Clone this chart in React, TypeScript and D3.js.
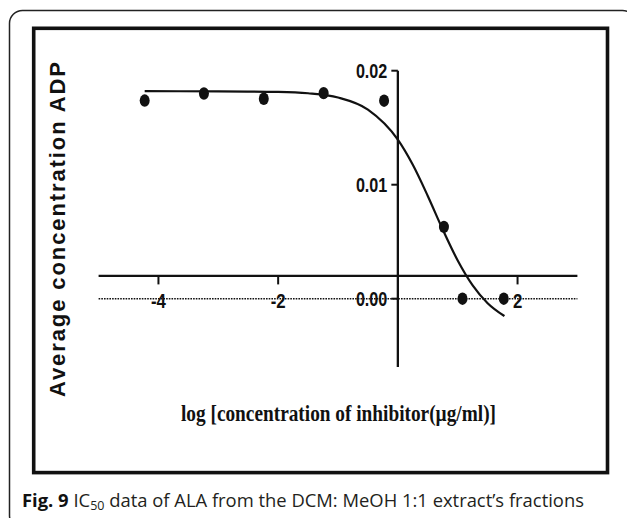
import React from "react";
import * as d3 from "d3";

// Data
const logConc = [-4.23, -3.24, -2.24, -1.24, -0.23, 0.77, 1.08, 1.77];
const adpValues = [0.01738, 0.018, 0.01754, 0.01803, 0.01737, 0.0063, 0.0, 0.0];

// Fitted sigmoid curve
const curveX = [-4.23, -3, -2, -1.5, -1, -0.5, 0, 0.25, 0.5, 0.75, 1.0, 1.25, 1.5, 1.78];
const curveY = [0.0182, 0.01819, 0.01814, 0.01802, 0.01765, 0.01659, 0.01395, 0.011745, 0.009014, 0.006071, 0.003353, 0.00117, -0.000395, -0.001522];

const xTicks = [-4, -2, 2];
const xTickLabels = ["-4", "-2", "2"];
const yTicks = [0.0, 0.01, 0.02];
const yTickLabels = ["0.00", "0.01", "0.02"];

const xDomain = [-5, 3];
const yDomain = [-0.006, 0.02];
const xAxisCrossValue = 0.002;

const yAxisTitle = "Average concentration ADP";
const xAxisTitle = "log [concentration of inhibitor(\u00b5g/ml)]";

export default function App() {
  const W = 627;
  const H = 518;
  const x = d3.scaleLinear().domain(xDomain).range([98.6, 577.4]);
  const y = d3.scaleLinear().domain(yDomain).range([367.1, 70.7]);

  const line = d3
    .line<number>()
    .x((d, i) => x(curveX[i]))
    .y((d) => y(d))
    .curve(d3.curveMonotoneX);

  const ink = "#111";
  const tickFont = "Liberation Sans, Arial, Helvetica, sans-serif";
  const xAxisY = y(xAxisCrossValue);

  return (
    <svg
      width={W}
      height={H}
      viewBox={`0 0 ${W} ${H}`}
      style={{ position: "absolute", left: 0, top: 0, display: "block", background: "#fff" }}
    >
      {/* outer rounded frame */}
      <rect x={9.5} y={10.5} width={626} height={518} rx={13} fill="none" stroke="#222" strokeWidth={1.5} />
      {/* inner thick frame */}
      <rect x={33.7} y={28.3} width={573.8} height={444.3} fill="none" stroke={ink} strokeWidth={3.6} />

      {/* dotted zero line */}
      <line
        x1={x(xDomain[0])}
        x2={x(xDomain[1])}
        y1={y(0)}
        y2={y(0)}
        stroke={ink}
        strokeWidth={1.4}
        strokeDasharray="1.6,1.1"
      />

      {/* x axis */}
      <line x1={x(xDomain[0])} x2={x(xDomain[1])} y1={xAxisY} y2={xAxisY} stroke={ink} strokeWidth={2.3} />
      {xTicks.map((t, i) => (
        <g key={"xt" + i}>
          <line x1={x(t)} x2={x(t)} y1={xAxisY} y2={xAxisY + 8.5} stroke={ink} strokeWidth={2} />
          <g transform={`translate(${x(t)},307.5) scale(0.8,1)`}>
            <text textAnchor="middle" fontFamily={tickFont} fontWeight="bold" fontSize={21} fill={ink}>
              {xTickLabels[i]}
            </text>
          </g>
        </g>
      ))}

      {/* y axis */}
      <line x1={x(0)} x2={x(0)} y1={y(yDomain[1])} y2={y(yDomain[0])} stroke={ink} strokeWidth={2.3} />
      {yTicks.map((t, i) => (
        <g key={"yt" + i}>
          <line x1={x(0) - 6.5} x2={x(0)} y1={y(t)} y2={y(t)} stroke={ink} strokeWidth={2} />
          <g transform={`translate(${x(0) - 10.5},${y(t) + 7.3}) scale(0.77,1)`}>
            <text textAnchor="end" fontFamily={tickFont} fontWeight="bold" fontSize={21} fill={ink}>
              {yTickLabels[i]}
            </text>
          </g>
        </g>
      ))}

      {/* fitted curve */}
      <path d={line(curveY) || ""} fill="none" stroke={ink} strokeWidth={2.2} />

      {/* data points */}
      {logConc.map((v, i) => (
        <ellipse key={"p" + i} cx={x(v)} cy={y(adpValues[i])} rx={5} ry={6.2} fill={ink} />
      ))}

      {/* axis titles */}
      <text
        transform="translate(65,229.5) rotate(-90)"
        textAnchor="middle"
        fontFamily="Liberation Sans, Arial, Helvetica, sans-serif"
        fontWeight="bold"
        fontSize={22}
        textLength={335}
        lengthAdjust="spacing"
        fill={ink}
      >
        {yAxisTitle}
      </text>
      <text
        x={181}
        y={421}
        fontFamily="Liberation Serif, Times New Roman, serif"
        fontWeight="bold"
        fontSize={23}
        textLength={315}
        lengthAdjust="spacingAndGlyphs"
        fill={ink}
      >
        {xAxisTitle}
      </text>

      {/* caption */}
      <text x={22} y={506.5} fontFamily="Open Sans, sans-serif" fontSize={18.4} fill="#231f20">
        <tspan fontWeight="bold" fill="#111">Fig. 9</tspan>
        <tspan> IC</tspan>
        <tspan fontSize={12.5} dy={3.5}>50</tspan>
        <tspan dy={-3.5}> data of ALA from the DCM: MeOH 1:1 extract’s fractions</tspan>
      </text>
    </svg>
  );
}
